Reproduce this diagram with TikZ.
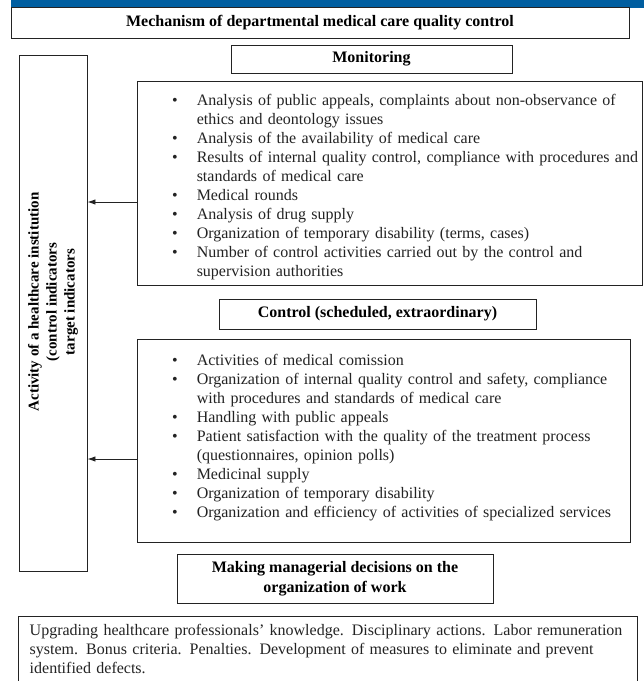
\documentclass[tikz,border=0pt]{standalone}
\usepackage{fontspec}
\setmainfont{Liberation Serif}
\usepackage{enumitem}
\usetikzlibrary{arrows.meta,calc,positioning}
\definecolor{bandblue}{RGB}{0,94,160}
\definecolor{inkgray}{RGB}{35,35,35}
\tikzset{
	box/.style={draw=inkgray,line width=0.9pt,inner sep=0pt,fill=white},
	headbox/.style={box,font=\bfseries\fontsize{16}{19.5}\selectfont,text=black,align=center},
	listtext/.style={inner sep=0pt,text width=#1,align=left,font=\fontsize{16}{19}\selectfont,text=inkgray},
	sidetext/.style={inner sep=0pt,align=center,font=\bfseries\fontsize{15}{18}\selectfont,text=black},
	arr/.style={-{Latex[length=8pt,width=5.5pt]},line width=0.9pt,draw=inkgray,fill=inkgray}
}
\newcommand{\bullist}[1]{\begin{itemize}[nosep,leftmargin=60pt,labelsep=19pt,label=\textbullet]#1\end{itemize}}

\begin{document}
\begin{tikzpicture}[x=1pt,y=1pt]
			\useasboundingbox (0,0) rectangle (644,-681);
			\fill[bandblue] (11,0) rectangle (644,-7.5);
			%
			\node[headbox,minimum width=618pt,minimum height=31pt] (title) at (320,-23) {Mechanism of departmental medical care quality control};
			\node[headbox,minimum width=281pt,minimum height=28pt] (monlbl) at (371.5,-59) {Monitoring};
			\node[box,minimum width=68pt,minimum height=516pt] (actbox) at (53,-313) {};
			\node[sidetext,rotate=90] (acttext) at ([yshift=11pt]actbox.center) {Activity of a healthcare institution\\(control indicators\\target indicators};
			%
			\node[box,minimum width=505pt,minimum height=204pt] (monbox) at (389.5,-183) {};
			\node[listtext=505pt,anchor=north west] (montext) at ($(monbox.north west)+(0,-6)$) {\bullist{
				\item Analysis of public appeals, complaints about non-observance of\newline ethics and deontology issues
				\item Analysis of the availability of medical care
				\item Results of internal quality control, compliance with procedures and\newline standards of medical care
				\item Medical rounds
				\item Analysis of drug supply
				\item Organization of temporary disability (terms, cases)
				\item Number of control activities carried out by the control and\newline supervision authorities}};
			%
			\node[headbox,minimum width=317pt,minimum height=30pt] (ctrllbl) at (377.5,-314) {Control (scheduled, extraordinary)};
			\node[box,minimum width=493pt,minimum height=203pt] (ctrlbox) at (383.5,-440.5) {};
			\node[listtext=493pt,anchor=north west] (ctrltext) at ($(ctrlbox.north west)+(0,-8)$) {\bullist{
				\item Activities of medical comission
				\item Organization of internal quality control and safety, compliance\newline with procedures and standards of medical care
				\item Handling with public appeals
				\item Patient satisfaction with the quality of the treatment process\newline (questionnaires, opinion polls)
				\item Medicinal supply
				\item Organization of temporary disability
				\item Organization and efficiency of activities of specialized services}};
			%
			\node[headbox,minimum width=316pt,minimum height=49pt] (decide) at (335,-578.5) {Making managerial decisions on the\\organization of work};
			\node[box,minimum width=619pt,minimum height=74pt] (measures) at (327.5,-653) {};
			\node[listtext=600pt,anchor=north west] (measurestext) at ($(measures.north west)+(12,-8)$) {Upgrading healthcare professionals' knowledge. Disciplinary actions. Labor remuneration\newline system. Bonus criteria. Penalties. Development of measures to eliminate and prevent\newline identified defects.};
			%
			\coordinate (monout) at ([yshift=-19pt]monbox.west);
			\coordinate (ctrlout) at ([yshift=-18.5pt]ctrlbox.west);
			\draw[arr] (monout) -- (monout -| actbox.east);
			\draw[arr] (ctrlout) -- (ctrlout -| actbox.east);
		\end{tikzpicture}
\end{document}
